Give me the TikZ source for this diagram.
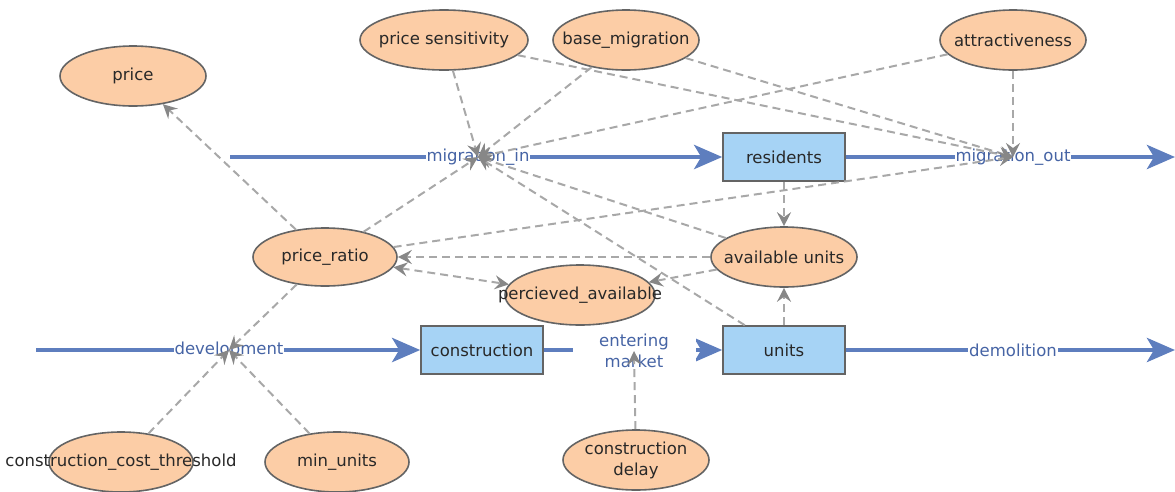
\documentclass[tikz,border=0pt]{standalone}
\usepackage{fontspec}
\setmainfont{DejaVu Sans}
\usetikzlibrary{shapes.geometric, arrows.meta}

\definecolor{peach}{RGB}{252,205,166}
\definecolor{skyfill}{RGB}{166,211,245}
\definecolor{edgegray}{RGB}{100,100,100}
\definecolor{flowblue}{RGB}{94,126,190}
\definecolor{flowtext}{RGB}{70,100,165}
\definecolor{linkgray}{RGB}{168,168,168}
\definecolor{tipgray}{RGB}{135,135,135}
\definecolor{inkgray}{RGB}{40,40,40}

\tikzset{
  txt/.style={font=\fontsize{16.5}{21}\selectfont},
  var/.style={ellipse, draw=edgegray, fill=peach, line width=1.6pt,
    minimum width=146pt, minimum height=60pt, inner sep=0pt},
  vartext/.style={txt, text=inkgray, inner sep=0pt, align=center},
  stock/.style={rectangle, draw=edgegray, fill=skyfill, line width=1.6pt,
    minimum width=122pt, minimum height=48pt, txt, text=inkgray},
  flow/.style={draw=flowblue, line width=4.8pt,
    -{Stealth[length=28pt,width=24pt,inset=7pt]}},
  flowlabel/.style={fill=white, inner sep=1pt, txt, text=flowtext, align=center},
  link/.style={draw=linkgray, line width=2pt, dash pattern=on 8pt off 5pt,
    -{Stealth[length=14pt,width=14pt,inset=5pt,color=tipgray]}},
  link2/.style={draw=linkgray, line width=2pt, dash pattern=on 8pt off 5pt,
    {Stealth[length=14pt,width=14pt,inset=5pt,color=tipgray]}-{Stealth[length=14pt,width=14pt,inset=5pt,color=tipgray]}},
}

\begin{document}
\begin{tikzpicture}[x=1pt, y=-1pt]
\useasboundingbox (0,0) rectangle (1175,491);

% stocks
\node[stock] (res)   at (784,157) {residents};
\node[stock] (cons)  at (482,350) {construction};
\node[stock] (units) at (784,350) {units};

% free ends of the flow pipes
\coordinate (misrc)  at (230,157);
\coordinate (mosink) at (1175,157);
\coordinate (devsrc) at (36,350);
\coordinate (demsink) at (1175,350);

% flows
\draw[flow] (misrc) -- (res.west);
\draw[flow] (res.east) -- (mosink);
\draw[flow] (devsrc) -- (cons.west);
\draw[flow] (cons.east) -- (units.west);
\draw[flow] (units.east) -- (demsink);

% flow rates
\node[flowlabel] (mi)  at (478,157) {migration\_in};
\node[flowlabel] (mo)  at (1013,157) {migration\_out};
\node[flowlabel] (dev) at (229,350) {development};
\node[flowlabel, minimum width=123pt] (em) at (634,351) {entering\\market};
\node[flowlabel] (dem) at (1013,350) {demolition};

% auxiliary variables
\node[var] (price) at (133,76) [label={[vartext]center:price}] {};
\node[var, minimum width=168pt] (psens) at (444,40) [label={[vartext]center:price sensitivity}] {};
\node[var] (basem) at (626,40) [label={[vartext]center:base\_migration}] {};
\node[var] (attr) at (1013,40) [label={[vartext]center:attractiveness}] {};
\node[var, minimum width=144pt, minimum height=58pt] (pr) at (325,257) [label={[vartext]center:price\_ratio}] {};
\node[var] (avail) at (784,257) [label={[vartext]center:available units}] {};
\node[var, minimum width=150pt] (perc) at (580,295) [label={[vartext]center:percieved\_available}] {};
\node[var, minimum width=144pt] (cct) at (121,462) [label={[vartext]center:construction\_cost\_threshold}] {};
\node[var, minimum width=144pt] (minu) at (337,462) [label={[vartext]center:min\_units}] {};
\node[var] (delay) at (636,460) [label={[vartext]center:construction\\delay}] {};

% influences on migration_in
\draw[link] (psens) -- (mi.center);
\draw[link] (basem) -- (mi.center);
\draw[link] (attr) -- (mi.center);
\draw[link] (pr) -- (mi.center);
\draw[link] (avail) -- (mi.center);
\draw[link] (units) -- (mi.center);

% influences on migration_out
\draw[link] (psens) -- (mo.center);
\draw[link] (basem) -- (mo.center);
\draw[link] (attr) -- (mo.center);
\draw[link] (pr) -- (mo.center);

% housing market
\draw[link] (res) -- (avail);
\draw[link] (units) -- (avail);
\draw[link] (avail) -- (pr);
\draw[link] (avail) -- (perc);
\draw[link2] (pr) -- (perc);
\draw[link] (pr) -- (price);

% influences on development and delivery
\draw[link] (pr) -- (dev.center);
\draw[link] (cct) -- (dev.center);
\draw[link] (minu) -- (dev.center);
\draw[link] (delay) -- (em.center);
\end{tikzpicture}
\end{document}
